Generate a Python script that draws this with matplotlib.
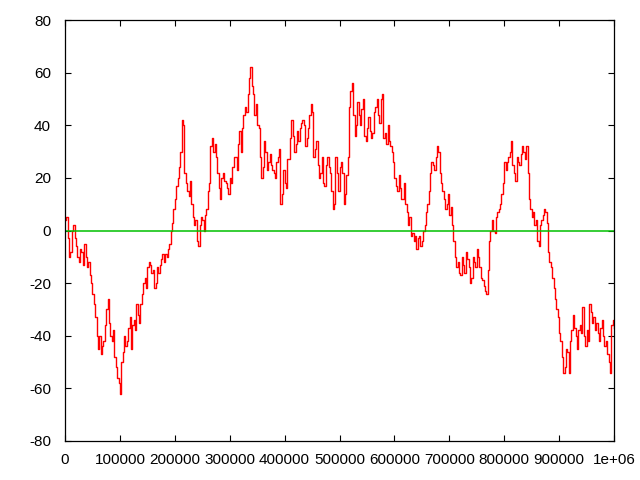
import numpy as np
import matplotlib
matplotlib.use("Agg")
import matplotlib.pyplot as plt

step = 5000
# readings at x = i*5000
walk = [4, -3, -8, 2, -6, -12, -8, -5, -14, -17,
        -24, -33, -45, -47, -42, -30, -35, -42, -48, -56,
        -62, -46, -44, -37, -45, -34, -28, -35, -24, -18,
        -14, -13, -15, -20, -16, -11, -12, -10, -5, 3,
        12, 20, 30, 40, 18, 13, 10, 2, -4, 2,
        4, 6, 15, 32, 30, 28, 16, 20, 19, 16,
        20, 24, 28, 33, 30, 44, 45, 58, 55, 44,
        40, 28, 24, 30, 26, 25, 22, 26, 31, 14,
        18, 27, 35, 36, 33, 34, 41, 40, 35, 44,
        45, 31, 25, 22, 18, 25, 24, 15, 10, 22,
        24, 22, 14, 28, 53, 44, 40, 44, 46, 36,
        39, 38, 37, 47, 44, 50, 35, 33, 34, 30,
        20, 15, 16, 12, 10, 2, -2, -4, -7, -2,
        -4, 2, 10, 22, 25, 28, 30, 18, 12, 10,
        6, 2, -10, -12, -17, -13, -8, -14, -18, -12,
        -7, -14, -19, -23, -15, 0, 0, 5, 8, 14,
        26, 26, 30, 25, 19, 26, 29, 30, 32, 12,
        5, 2, -4, 2, 6, 7, -8, -14, -22, -30,
        -39, -48, -52, -46, -42, -32, -40, -38, -39, -40,
        -38, -28, -35, -38, -39, -37, -40, -42, -50, -36,
        -37]
# readings at x = i*5000 + 2500
mid = [5, -10, 0, -3, -10, -7, -13, -10, -12, -20,
       -28, -40, -40, -44, -36, -26, -40, -38, -52, -58,
       -50, -40, -42, -33, -36, -38, -32, -28, -20, -22,
       -12, -16, -22, -14, -13, -9, -9, -7, 0, 8,
       17, 24, 42, 22, 15, 19, 5, 4, -6, 5,
       0, 8, 18, 35, 33, 22, 12, 22, 18, 14,
       18, 28, 23, 38, 39, 47, 52, 62, 52, 48,
       39, 20, 34, 23, 29, 23, 20, 28, 10, 23,
       16, 27, 42, 30, 38, 39, 42, 32, 39, 48,
       28, 34, 20, 28, 17, 28, 22, 8, 28, 15,
       26, 10, 21, 47, 56, 36, 49, 40, 50, 34,
       43, 35, 45, 50, 41, 52, 37, 40, 32, 26,
       17, 21, 12, 18, 7, 5, -1, -2, -3, -6,
       0, 7, 15, 26, 23, 32, 22, 15, 8, 14,
       9, -4, -14, -16, -10, -16, -11, -20, -10, -14,
       -10, -18, -21, -24, -4, 4, -1, 7, 10, 18,
       23, 28, 34, 22, 28, 25, 32, 27, 22, 8,
       7, 4, -6, 4, 8, 3, -12, -18, -26, -33,
       -42, -54, -45, -54, -38, -37, -45, -36, -29, -44,
       -42, -31, -33, -35, -42, -34, -44, -47, -54, -34]

xs_w = np.arange(len(walk)) * step
xs_m = np.arange(len(mid)) * step + step / 2
x = np.empty(len(walk) + len(mid))
y = np.empty_like(x)
x[0::2], x[1::2] = xs_w, xs_m
y[0::2], y[1::2] = walk, mid

xticks = [0, 100000, 200000, 300000, 400000, 500000, 600000, 700000, 800000, 900000, 1000000]
xticklabels = ["0", "100000", "200000", "300000", "400000", "500000", "600000",
               "700000", "800000", "900000", "1e+06"]
yticks = [-80, -60, -40, -20, 0, 20, 40, 60, 80]

plt.rcParams['font.family'] = ['Liberation Sans', 'DejaVu Sans']
plt.rcParams['axes.unicode_minus'] = False
fig = plt.figure(figsize=(6.4, 4.8), dpi=100)
ax = fig.add_axes([65/640, 39/480, 549/640, 421/480])
ax.plot(x, y, color='#ff0000', lw=1.0, drawstyle='steps-post')
ax.axhline(0, color='#00c000', lw=1.1)
ax.set_xlim(0, 1000000)
ax.set_ylim(-80, 80)
ax.set_xticks(xticks)
ax.set_xticklabels(xticklabels)
ax.set_yticks(yticks)
ax.tick_params(direction='in', top=True, right=True, length=4.5, width=0.8,
               labelsize=11, colors='black')
ax.tick_params(axis='y', pad=10)
ax.tick_params(axis='x', pad=9)
for s in ax.spines.values():
    s.set_linewidth(0.9)
fig.savefig("out.png", dpi=100)
